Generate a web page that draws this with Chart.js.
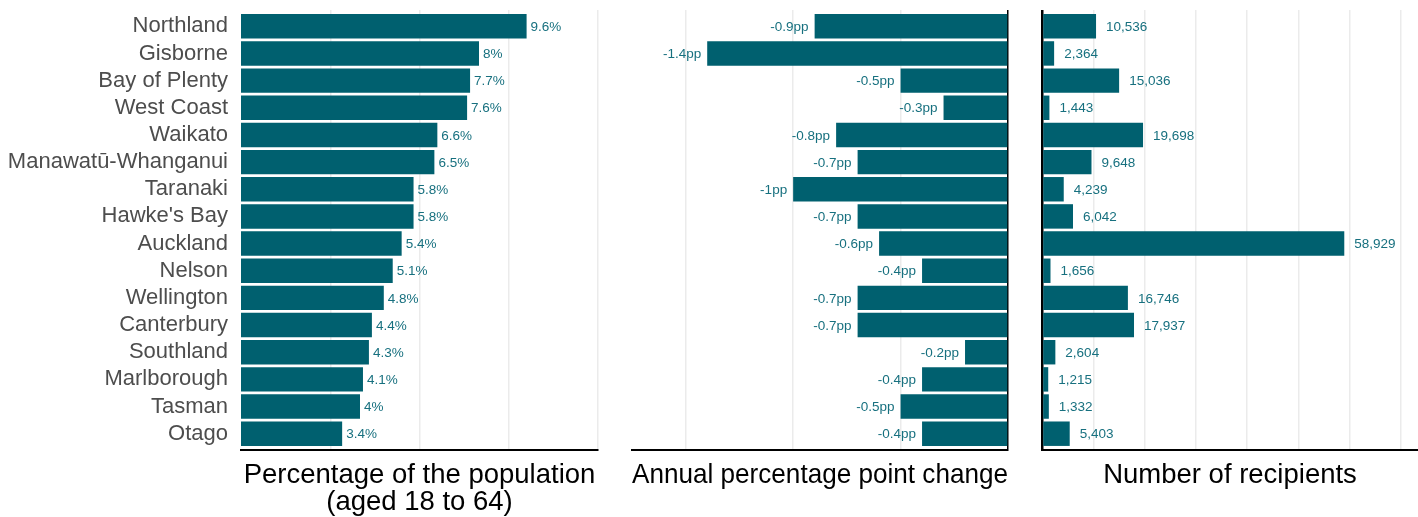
<!DOCTYPE html>
<html><head><meta charset="utf-8">
<script src="https://cdn.jsdelivr.net/npm/chart.js@4"></script>
<style>
html,body{margin:0;padding:0;background:#fff;width:1418px;height:517px;overflow:hidden}
canvas{position:absolute;top:0}
</style></head><body>
<canvas id="c1" style="left:0px" width="610" height="517"></canvas>
<canvas id="c2" style="left:610px" width="420" height="517"></canvas>
<canvas id="c3" style="left:1030px" width="388" height="517"></canvas>
<script>
const regions = ["Northland","Gisborne","Bay of Plenty","West Coast","Waikato","Manawatū-Whanganui","Taranaki","Hawke's Bay","Auckland","Nelson","Wellington","Canterbury","Southland","Marlborough","Tasman","Otago"];
const populationPct = [9.6, 8, 7.7, 7.6, 6.6, 6.5, 5.8, 5.8, 5.4, 5.1, 4.8, 4.4, 4.3, 4.1, 4, 3.4];
const annualChangePp = [-0.9, -1.4, -0.5, -0.3, -0.8, -0.7, -1, -0.7, -0.6, -0.4, -0.7, -0.7, -0.2, -0.4, -0.5, -0.4];
const recipients = [10536, 2364, 15036, 1443, 19698, 9648, 4239, 6042, 58929, 1656, 16746, 17937, 2604, 1215, 1332, 5403];
const pctGrid = [3, 6, 9, 12];
const ppGrid = [-1.5, -1, -0.5, 0];
const recGrid = [0, 10000, 20000, 30000, 40000, 50000, 60000, 70000];
const titles = [["Percentage of the population", "(aged 18 to 64)"], "Annual percentage point change", "Number of recipients"];

const FONT = '"Liberation Sans", Arial, sans-serif';
const BAR = '#00606F';
const LBL = '#17707f';
Chart.defaults.font.family = FONT;
Chart.defaults.animation = false;
Chart.defaults.devicePixelRatio = 1;

function fmtThousands(v){ return String(v).replace(/\B(?=(\d{3})+(?!\d))/g, ','); }

function labelPlugin(fmt, gap){
  return {
    id: 'vlabels',
    afterDatasetsDraw(chart){
      const ctx = chart.ctx;
      const meta = chart.getDatasetMeta(0);
      const data = chart.data.datasets[0].data;
      ctx.save();
      ctx.font = '13.5px ' + FONT;
      ctx.fillStyle = LBL;
      ctx.textBaseline = 'middle';
      meta.data.forEach((bar, i) => {
        const v = data[i].x;
        const t = fmt(v);
        if (v < 0) { ctx.textAlign = 'right'; ctx.fillText(t, bar.x - gap, bar.y + 1); }
        else { ctx.textAlign = 'left'; ctx.fillText(t, bar.x + gap, bar.y + 1); }
      });
      ctx.restore();
    }
  };
}

function makeChart(id, values, cfg){
  const zeroW = cfg.zeroWidth;
  return new Chart(document.getElementById(id), {
    type: 'bar',
    data: {
      datasets: [{
        data: values.map((v, i) => ({x: v, y: i})),
        backgroundColor: BAR,
        borderWidth: 0,
        barPercentage: 0.9,
        categoryPercentage: 1
      }]
    },
    options: {
      indexAxis: 'y',
      responsive: false,
      animation: false,
      layout: { padding: { top: 10, bottom: 0, left: cfg.padLeft, right: cfg.padRight } },
      plugins: { legend: { display: false }, tooltip: { enabled: false } },
      scales: {
        x: {
          type: 'linear',
          position: 'bottom',
          min: cfg.min, max: cfg.max,
          afterBuildTicks: s => { s.ticks = cfg.grid.map(v => ({value: v})); },
          afterFit: s => { s.height = 67; s.paddingLeft = 0; s.paddingRight = 0; },
          ticks: { display: false },
          grid: {
            drawTicks: false,
            color: c => (zeroW && c.tick && c.tick.value === 0) ? '#000000' : '#ebebeb',
            lineWidth: c => (zeroW && c.tick && c.tick.value === 0) ? zeroW : 1.5
          },
          border: { display: true, color: '#000000', width: 2 },
          title: {
            display: true,
            text: cfg.title,
            color: '#000000',
            font: { size: 27.5, family: FONT, lineHeight: 0.95 },
            padding: { top: 0, bottom: cfg.titlePad }
          }
        },
        y: {
          type: 'linear',
          reverse: true,
          offset: false,
          min: -0.6, max: 15.6,
          display: cfg.showY,
          afterBuildTicks: s => { s.ticks = regions.map((_, i) => ({value: i})); },
          afterFit: s => { if (cfg.showY) s.width = 241; s.paddingTop = 0; s.paddingBottom = 0; },
          ticks: {
            autoSkip: false,
            padding: 13,
            color: '#4d4d4d',
            font: { size: 22, family: FONT },
            callback: v => regions[v]
          },
          grid: { display: false, drawTicks: false, offset: false },
          border: { display: false }
        }
      }
    },
    plugins: [labelPlugin(cfg.fmt, cfg.gap)]
  });
}

makeChart('c1', populationPct, {
  min: 0, max: 12, grid: pctGrid, title: titles[0], titlePad: 2,
  padLeft: 0, padRight: 12, showY: true, zeroWidth: 0,
  fmt: v => v + '%', gap: 4
});
makeChart('c2', annualChangePp, {
  min: -1.75, max: 0, grid: ppGrid, title: titles[1], titlePad: 29,
  padLeft: 22, padRight: 22, showY: false, zeroWidth: 1.5,
  fmt: v => v + 'pp', gap: 6
});
makeChart('c3', recipients, {
  min: 0, max: 73300, grid: recGrid, title: titles[2], titlePad: 29,
  padLeft: 12, padRight: 0, showY: false, zeroWidth: 2.5,
  fmt: fmtThousands, gap: 10
});
</script>
</body></html>
